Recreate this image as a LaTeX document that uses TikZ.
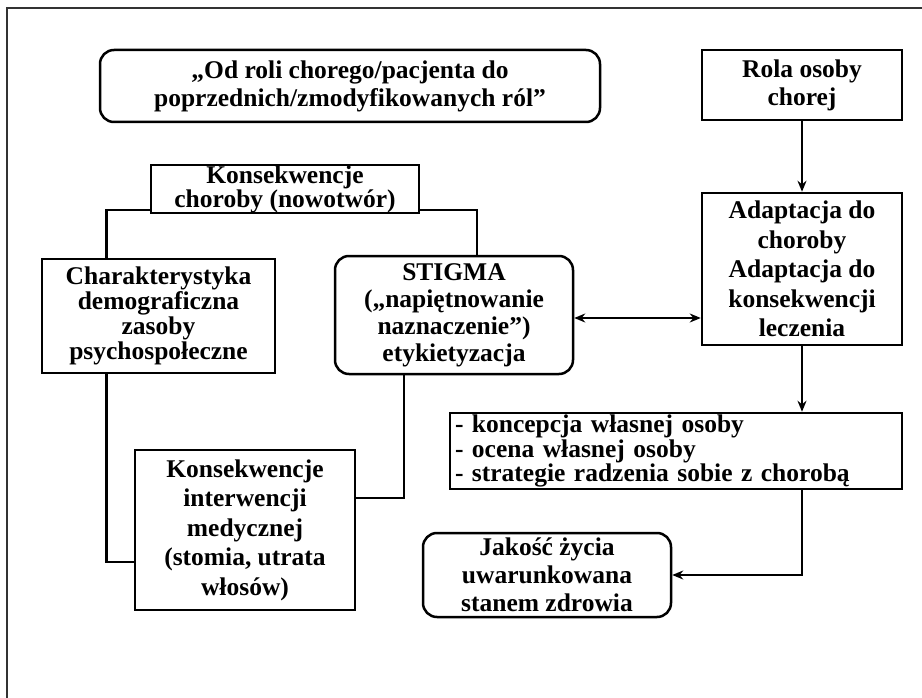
\documentclass[tikz,border=0pt]{standalone}
\usepackage{fontspec}
\setmainfont{Liberation Serif}
\usetikzlibrary{arrows.meta}
\newcommand{\odstep}[1]{\fontsize{25.5}{#1}\selectfont\bfseries}

\begin{document}
\begin{tikzpicture}
[x = 1pt, y = -1pt, line width = 2.5pt,
 every node/.style = {shape = rectangle, draw, line width = 2.5pt, align = center, inner sep = 0pt, font = \odstep{28}},
 okragly/.style = {rounded corners = 14pt},
 strz/.style = {-{Stealth[length=11pt,width=9pt]}, line width = 2.6pt}]
\useasboundingbox (0,0) rectangle (922,698);
\draw[line width = 2pt, draw = black!80] (7,698) -- (7,8) -- (922,8);

\node[okragly, minimum width = 500pt, minimum height = 72pt] (opis) at (350,86) {„Od roli chorego/pacjenta do\\poprzednich/zmodyfikowanych ról”};
\node[minimum width = 200pt, minimum height = 70pt] (rola) at (802,85) {Rola osoby\\chorej};
\node[minimum width = 200pt, minimum height = 152pt, font = \odstep{29.5}] (adapt) at (802,269) {Adaptacja do\\choroby\\Adaptacja do\\konsekwencji\\leczenia};
\node[minimum width = 452pt, minimum height = 76pt, align = left, text width = 442pt, font = \odstep{23}] (cechy) at (676,451) {- koncepcja własnej osoby\\- ocena własnej osoby\\- strategie radzenia sobie z chorobą};
\node[okragly, minimum width = 248pt, minimum height = 84pt] (jakosc) at (547,575) {Jakość życia\\uwarunkowana\\stanem zdrowia};
\node[minimum width = 268pt, minimum height = 48pt, font = \odstep{22}] (konsch) at (285,189) {Konsekwencje\\choroby (nowotwór)};
\node[minimum width = 233pt, minimum height = 114pt, font = \odstep{25}] (charakt) at (158.5,316) {Charakterystyka\\demograficzna\\zasoby\\psychospołeczne};
\node[okragly, minimum width = 238pt, minimum height = 118pt, font = \odstep{27}] (stigma) at (454,315) {STIGMA\\(„napiętnowanie\\naznaczenie”)\\etykietyzacja};
\node[minimum width = 220pt, minimum height = 160pt, font = \odstep{29.5}] (interw) at (245,530) {Konsekwencje\\interwencji\\medycznej\\(stomia, utrata\\włosów)};

% strzalki
\draw[strz] (rola.south) -- (adapt.north);
\draw[strz] (adapt.south) -- (adapt.south |- cechy.north);
\draw[strz] (adapt.south |- cechy.south) |- (jakosc.east);
\draw[{Stealth[length=11pt,width=9pt]}-{Stealth[length=11pt,width=9pt]}, line width = 2.6pt] ([yshift=-3pt]stigma.east) -- ([yshift=-3pt]stigma.east -| adapt.west);

% linie
\draw ([yshift=4pt]konsch.south west) -| ([xshift=-52pt]charakt.north);
\draw ([yshift=4pt]konsch.south east) -| ([xshift=23pt]stigma.north);
\draw ([xshift=-52pt]charakt.south) |- ([yshift=-32pt]interw.west);
\draw ([xshift=-50pt]stigma.south) |- ([yshift=32pt]interw.east);
\end{tikzpicture}
\end{document}
